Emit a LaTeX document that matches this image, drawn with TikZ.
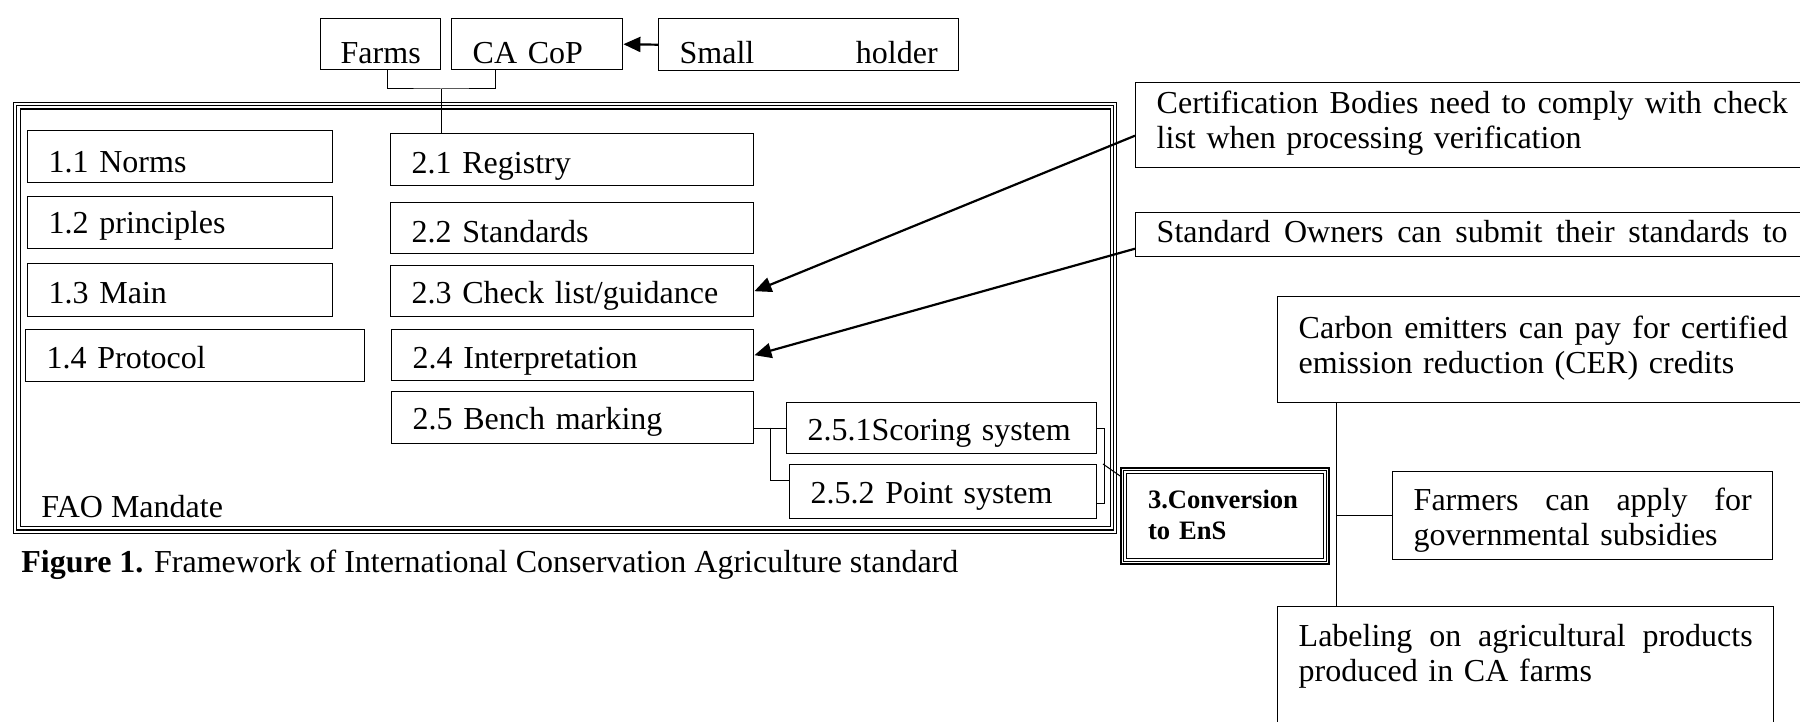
\documentclass[tikz,border=0pt]{standalone}
\usepackage{fontspec}
\setmainfont{Liberation Serif}
\usetikzlibrary{arrows.meta}
\tikzset{>={Triangle[length=8.5pt,width=7.5pt]}}
% one line spread over a given width
\newcommand{\jline}[2]{\hbox to #1{\spaceskip=4pt plus 1fil\relax #2}}

\begin{document}
\begin{tikzpicture}[x=0.5pt, y=-0.5pt,
  font=\fontsize{16}{17.5}\selectfont,
  box/.style={draw, line width=0.7pt, anchor=north west, inner xsep=10.5pt, inner ysep=0pt, align=left},
  frame/.style={draw, line width=0.6pt, anchor=north west, inner sep=0pt, outer sep=0pt},
  link/.style={line width=0.5pt},
  arr/.style={line width=1.1pt, ->}]

\useasboundingbox (0,0) rectangle (1800,722);

% top row
\node[box, inner xsep=10pt, text width=40pt, text height=22.5pt, text depth=3pt] (farms) at (320,18) {Farms};
\node[box, text width=64.5pt, text height=22.5pt, text depth=3pt] (cacop) at (451,18) {CA CoP};
\node[box, text width=129pt, text height=22.5pt, text depth=3.5pt] (sh) at (658,18) {\jline{129pt}{Small holder}};

% FAO mandate frame
\node[frame, minimum width=551.6pt, minimum height=215.4pt] (mandate) at (13.5,102.5) {};
\foreach \off in {1.65pt,3.3pt}
  \draw[line width=0.6pt] ([shift={(\off,-\off)}]mandate.north west) rectangle ([shift={(-\off,\off)}]mandate.south east);
\node[anchor=base west, inner sep=0pt] (fao) at (41,517) {FAO Mandate};

% column 1
\node[box, text width=131.5pt, text height=21pt, text depth=5pt] (b11) at (27,130) {1.1 Norms};
\node[box, text width=131.5pt, text height=18.5pt, text depth=7.5pt] (b12) at (27,196) {1.2 principles};
\node[box, text width=131.5pt, text height=20pt, text depth=6.5pt] (b13) at (27,263) {1.3 Main};
\node[box, text width=148.5pt, text height=19.5pt, text depth=6.5pt] (b14) at (25,329) {1.4 Protocol};

% column 2
\node[box, text width=160.5pt, text height=20pt, text depth=6pt] (r21) at (390,133) {2.1 Registry};
\node[box, text width=160.5pt, text height=20pt, text depth=5.5pt] (r22) at (390,202) {2.2 Standards};
\node[box, text width=160.5pt, text height=19pt, text depth=6.5pt] (r23) at (390,265) {2.3 Check list/guidance};
\node[box, text width=160pt, text height=19.5pt, text depth=6pt] (r24) at (391,329) {2.4 Interpretation};
\node[box, text width=160pt, text height=19pt, text depth=7pt] (r25) at (391,391) {2.5 Bench marking};
\node[box, text width=134pt, text height=19pt, text depth=6.5pt] (r251) at (786,402) {2.5.1Scoring system};
\node[box, text width=132.5pt, text height=19.5pt, text depth=7.5pt] (r252) at (789,464) {2.5.2 Point system};

% conversion
\node[frame, minimum width=104pt, minimum height=48pt, inner xsep=13.5pt, text width=77pt, align=left,
  text height=20pt, text depth=28pt, font=\fontsize{13.3}{15.5}\selectfont\bfseries] (conv) at (1121,468) {3.Conversion\\to EnS};
\foreach \off in {1.25pt,2.8pt}
  \draw[line width=0.6pt] ([shift={(\off,-\off)}]conv.north west) rectangle ([shift={(-\off,\off)}]conv.south east);

% right side
\node[box, text width=315.5pt, text height=15.5pt, text depth=27pt] (cert) at (1135,82)
  {\jline{315.5pt}{Certification Bodies need to comply with check}\\list when processing verification};
\node[box, text width=315.5pt, text height=15pt, text depth=7pt] (std) at (1135,212)
  {\jline{315.5pt}{Standard Owners can submit their standards to}};
\node[box, text width=244.5pt, text height=21pt, text depth=32pt] (carbon) at (1277,296)
  {\jline{244.5pt}{Carbon emitters can pay for certified}\\emission reduction (CER) credits};
\node[box, text width=169pt, text height=19.5pt, text depth=24.5pt] (farmers) at (1392,471)
  {\jline{169pt}{Farmers can apply for}\\governmental subsidies};
\node[box, text width=227pt, text height=20pt, text depth=42pt] (lab) at (1277,606)
  {\jline{227pt}{Labeling on agricultural products}\\produced in CA farms};

% links
\coordinate (top) at (441,89);
\draw[link] ([xshift=3.5pt]farms.south) |- (top) -| ([xshift=-20.75pt]cacop.south);
\draw[link] (top) -- (top |- r21.north);
\draw[arr] (sh.west) -- (cacop.east);

\draw[arr] ([yshift=-5.25pt]cert.west) -- (r23.east);
\draw[arr] ([yshift=-7pt]std.west) -- (r24.east);

\coordinate (bj) at (770,427.5);
\draw[link] (r25.east |- r251.west) -- (r251.west);
\draw[link] (bj) |- ([yshift=5.5pt]r252.west);
\draw[link] (r251.east) -- ++(7,0) |- ([yshift=-6pt]r252.east);
\coordinate (bk) at (1103,464);
\draw[link] (bk) -- ([yshift=-4.3pt]conv.north west);

\coordinate (sp) at ([xshift=29.5pt]carbon.south west);
\draw[link] (sp) -- (sp |- lab.north);
\draw[link] (sp |- farmers.west) -- (farmers.west);

\node[anchor=base west, inner sep=0pt] (cap) at (21,572) {\textbf{Figure 1.} Framework of International Conservation Agriculture standard};

\end{tikzpicture}
\end{document}
